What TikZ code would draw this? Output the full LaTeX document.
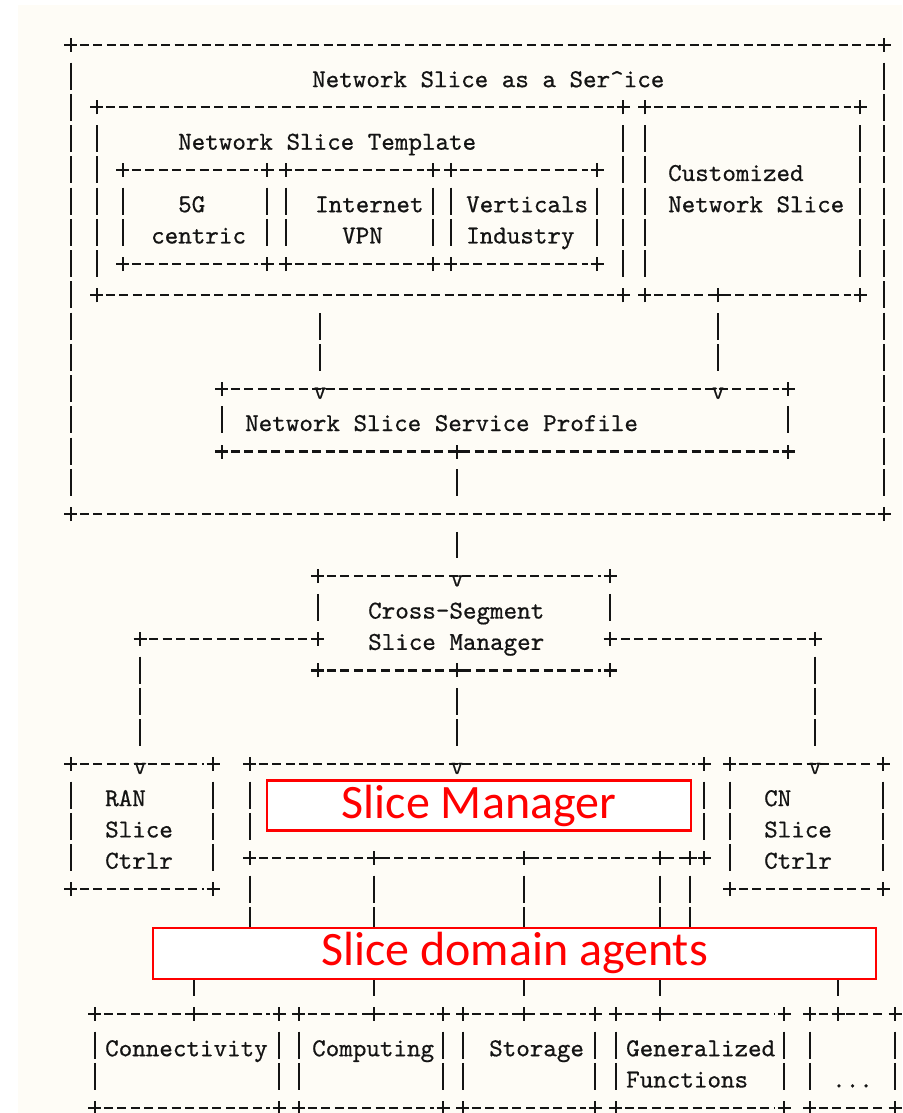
\documentclass[tikz,border=0pt]{standalone}
\usepackage{fontspec}
\newfontfamily\slidefont{Carlito}
\newfontfamily\asciifont{lmmono10-regular}[Extension=.otf, FakeBold=0.6]
\usepackage{tikz}
\usetikzlibrary{fit}

\definecolor{paper}{RGB}{254,252,246}
\definecolor{inkgray}{RGB}{20,20,20}
\definecolor{slidered}{RGB}{255,0,0}

% top, bottom and corners of a box in the ascii look
\newcommand{\asciiframe}[1]{%
  \draw[hline] (#1.north west) -- (#1.north east);
  \draw[hline] (#1.south west) -- (#1.south east);
  \foreach \corner in {north west,north east,south west,south east}
    \pic at (#1.\corner) {asciiplus};
}
% same, with the two sides
\newcommand{\asciibox}[1]{%
  \asciiframe{#1}
  \draw[vline] (#1.north west) -- (#1.south west);
  \draw[vline] (#1.north east) -- (#1.south east);
}

\begin{document}
\begin{tikzpicture}[x=1pt,y=-31.26pt,
    hline/.style={draw=inkgray, line width=2.2pt, dash pattern=on 9pt off 4.55pt, shorten <=9pt, shorten >=9pt},
    vline/.style={draw=inkgray, line width=2.2pt, dash pattern=on 27pt off 4.26pt, shorten <=17.76pt, shorten >=17.76pt},
    area/.style={inner sep=0pt},
    txt/.style={font=\asciifont\fontsize{25.8}{30}\selectfont, text=inkgray, inner sep=0pt, text height=15.8pt, text depth=0pt, anchor=west, yshift=-3pt},
    vmark/.style={font=\asciifont\fontsize{25.8}{30}\selectfont, text=inkgray, inner sep=0pt, text height=11pt, text depth=0pt, anchor=north, yshift=1pt},
    redbox/.style={draw=slidered, line width=2.8pt, fill=white, text=slidered, font=\slidefont\fontsize{48}{50}\selectfont, inner sep=0pt},
    asciiplus/.pic={\draw[inkgray, line width=2.2pt] (-6.5pt,0) -- (6.5pt,0) (0,-7pt) -- (0,7pt);}
  ]
    % Page
    \useasboundingbox (0,-1.4396) rectangle (902,34.165);
    \fill[paper] (18,-1.28) rectangle (902,34.165);

    % Boxes (left/right in px, top/bottom in rows)
    \foreach \n/\l/\t/\r/\b in {nsaas/71/0/884/15, nst/97/2/623/8, g5/123/4/267/7, inet/286/4/433/7,
        vert/451/4/597/7, cns/645/2/860/8, nssp/222/11/788/13, cssm/318/17/610/20,
        ran/71/23/213/27, sm/250/23/704/26, cn/730/23/883/27,
        conn/95/31/279/34, comp/299/31/443/34, stor/463/31/595/34, gen/616/31/784/34, more/810/31/895/34} {
      \node[area, fit={(\l,\t) (\r,\b)}] (\n) {};
    }
    \foreach \n in {nsaas, nst, g5, inet, vert, cns, nssp, ran, sm, cn, conn, comp, stor, gen, more} {
      \asciibox{\n}
    }
    \asciiframe{cssm}

    % Labels
    \foreach \n/\x/\y/\t in {title/312/1/{Network Slice as a Ser\textasciicircum ice}, tpl/178/3/{Network Slice Template},
        g5a/178/5/5G, g5b/151/6/centric, ineta/315/5/Internet, inetb/342/6/VPN,
        verta/466/5/Verticals, vertb/466/6/Industry, cnsa/668/4/Customized, cnsb/668/5/{Network Slice},
        prof/245/12/{Network Slice Service Profile}, cssma/368/18/Cross-Segment, cssmb/368/19/{Slice Manager},
        rana/105/24/RAN, ranb/105/25/Slice, ranc/105/26/Ctrlr, cna/764/24/CN, cnb/764/25/Slice, cnc/764/26/Ctrlr,
        conna/105/32/Connectivity, compa/312/32/Computing, stora/489/32/Storage,
        gena/626/32/Generalized, genb/626/33/Functions} {
      \node[txt] (\n) at (\x,\y) {\t};
    }
    \node[txt] (morea) at (832,33) {...};

    % Links between the boxes
    \foreach \x/\a/\b/\k in {320/nst/nssp/a, 718/cns/nssp/b, 457/nsaas/cssm/c, 457/cssm/sm/d} {
      \coordinate (col\k) at (\x,0);
      \draw[vline] (col\k |- \a.south) -- (col\k |- \b.north);
      \node[vmark] (v\k) at (col\k |- \b.north) {v};
    }
    \coordinate (prof) at (457,0);
    \draw[vline] (prof |- nssp.south) -- (prof |- nsaas.south);
    \pic at (colb |- cns.south) {asciiplus};
    \pic at (prof |- nssp.south) {asciiplus};
    \pic at (cold |- cssm.south) {asciiplus};

    % Branches to the segment controllers
    \coordinate (ranturn) at (140,19);
    \coordinate (cnturn) at (815,19);
    \draw[vline] (cssm.north west) -- (ranturn -| cssm.west);
    \draw[vline] (cssm.north east) -- (cnturn -| cssm.east);
    \draw[hline] (ranturn) -- (ranturn -| cssm.west);
    \draw[hline] (cnturn) -- (cnturn -| cssm.east);
    \draw[vline] (ranturn) -- (ranturn |- ran.north);
    \draw[vline] (cnturn) -- (cnturn |- cn.north);
    \node[vmark] (vran) at (ranturn |- ran.north) {v};
    \node[vmark] (vcn) at (cnturn |- cn.north) {v};
    \pic at (ranturn) {asciiplus};
    \pic at (cnturn) {asciiplus};
    \pic at (ranturn -| cssm.west) {asciiplus};
    \pic at (cnturn -| cssm.east) {asciiplus};

    % Slice manager down to the resource boxes
    \coordinate (mid) at (0,29);
    \foreach \t/\b/\n in {250/194/conn, 374/374/comp, 524/524/stor, 660/660/gen, 690/838/more} {
      \coordinate (up) at (\t,0);
      \coordinate (dn) at (\b,0);
      \draw[vline] (up |- sm.south) -- (up |- mid);
      \draw[vline] (dn |- mid) -- (dn |- \n.north);
      \pic at (dn |- \n.north) {asciiplus};
    }
    \foreach \t in {374, 524, 660, 690}
      \pic at (\t,26) {asciiplus};

    % Red call-outs
    \node[redbox, minimum width=424pt, minimum height=50pt] (smtag) at (479,24.34) {Slice Manager};
    \node[redbox, minimum width=723pt, minimum height=51pt] (agents) at (514.5,29.06) {Slice domain agents};
\end{tikzpicture}
\end{document}
